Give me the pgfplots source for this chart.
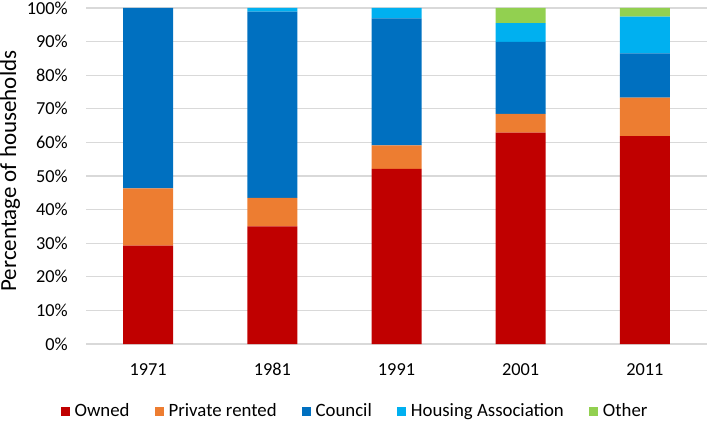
\documentclass[border=0pt]{standalone}
\usepackage{pgfplots}
\pgfplotsset{compat=1.18}
\usepackage{fontspec}
\setmainfont{Carlito}
\definecolor{cOwned}{HTML}{C00000}
\definecolor{cPriv}{HTML}{ED7D31}
\definecolor{cCouncil}{HTML}{0070C0}
\definecolor{cHA}{HTML}{00B0F0}
\definecolor{cOther}{HTML}{92D050}
\definecolor{gridgray}{HTML}{D9D9D9}
\pgfplotstableread{
x owned priv council ha other
0 29.3 17.0 53.7 0.0 0.0
1 35.0 8.5 55.4 1.1 0.0
2 52.1 7.0 37.8 3.1 0.0
3 62.9 5.6 21.4 5.6 4.5
4 61.9 11.4 13.2 10.9 2.6
}\datatable
\begin{document}
\fontsize{18.5pt}{22pt}\selectfont
\begin{tikzpicture}
\path[use as bounding box] (0,0) rectangle (708pt,421pt);
\begin{axis}[
  at={(86pt,77pt)}, anchor=south west,
  scale only axis, width=621pt, height=336pt,
  ybar stacked, bar width=50pt,
  xmin=-0.5, xmax=4.5, ymin=0, ymax=100,
  xtick={0,1,2,3,4},
  xticklabels={1971,1981,1991,2001,2011},
  ytick={0,10,20,30,40,50,60,70,80,90,100},
  yticklabels={0\%,10\%,20\%,30\%,40\%,50\%,60\%,70\%,80\%,90\%,100\%},
  axis line style={draw=none},
  major tick length=0pt,
  ymajorgrids,
  grid style={draw=gridgray, line width=1.3pt},
  every tick label/.append style={font=\fontsize{18.3pt}{22pt}\selectfont},
  yticklabel style={inner sep=0pt, anchor=east, xshift=-18pt},
  xticklabel style={inner sep=0pt, anchor=north, yshift=-19pt},
  legend columns=5,
  legend style={at={(axis description cs:0.4316,-0.1994)}, anchor=center,
    draw=none, fill=none, inner sep=0pt,
    font=\fontsize{18.8pt}{22pt}\selectfont,
    nodes={inner sep=0pt, anchor=west},
    /tikz/every odd column/.append style={column sep=5pt},
    /tikz/every even column/.append style={column sep=25pt}},
  legend image code/.code={\fill[#1] (0pt,-4.5pt) rectangle (9pt,4.5pt);},
]
\addplot[fill=cOwned, draw=none] table[x=x, y=owned] {\datatable};
\addplot[fill=cPriv, draw=none] table[x=x, y=priv] {\datatable};
\addplot[fill=cCouncil, draw=none] table[x=x, y=council] {\datatable};
\addplot[fill=cHA, draw=none] table[x=x, y=ha] {\datatable};
\addplot[fill=cOther, draw=none] table[x=x, y=other] {\datatable};
\legend{Owned, Private rented, Council, Housing Association, Other}
\end{axis}
\node[rotate=90, inner sep=0pt, font=\fontsize{23pt}{26pt}\selectfont] at (10pt,250pt) {Percentage of households};
\end{tikzpicture}
\end{document}
